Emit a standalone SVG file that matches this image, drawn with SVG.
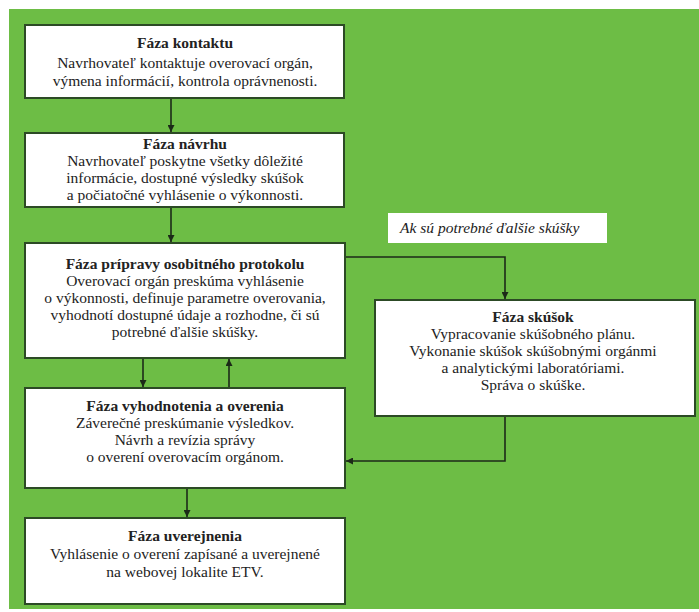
<svg xmlns="http://www.w3.org/2000/svg" width="699" height="612" viewBox="0 0 699 612">
<style>
text{font-family:'Liberation Serif','DejaVu Serif',serif}
.t{font-size:15.5px;fill:#222;text-anchor:middle}
.b{font-weight:bold}
.i{font-style:italic;text-anchor:start;font-size:15.5px}
.box{fill:#ffffff;stroke:#2c4a25;stroke-width:2}
.c{fill:none;stroke:#1c2a18;stroke-width:1.6}
</style>
<defs>
<marker id="ah" viewBox="0 0 10 10" refX="10" refY="5" markerWidth="7" markerHeight="7" markerUnits="userSpaceOnUse" orient="auto">
<path d="M0,0 L10,5 L0,10 z" fill="#1c2a18"/>
</marker>
</defs>
<rect x="0" y="0" width="699" height="612" fill="#ffffff"/>
<rect x="9" y="9" width="690" height="600" fill="#6dbd45"/>
<g id="connectors">
<line class="c" x1="171" y1="99" x2="171" y2="132" marker-end="url(#ah)"/>
<line class="c" x1="171" y1="208" x2="171" y2="242" marker-end="url(#ah)"/>
<line class="c" x1="143" y1="359" x2="143" y2="387" marker-end="url(#ah)"/>
<line class="c" x1="229" y1="387" x2="229" y2="359" marker-end="url(#ah)"/>
<polyline class="c" points="346,257 505,257 505,299" marker-end="url(#ah)"/>
<polyline class="c" points="505,417 505,461 346,461" marker-end="url(#ah)"/>
<line class="c" x1="187" y1="489" x2="187" y2="517" marker-end="url(#ah)"/>
</g>
<g id="label">
<rect x="388" y="213" width="219" height="30" fill="#ffffff"/>
<text class="t i" x="400" y="233">Ak sú potrebné ďalšie skúšky</text>
</g>
<g id="faza-kontaktu">
<rect class="box" x="25" y="25" width="319" height="73"/>
<text class="t b" x="185" y="48">Fáza kontaktu</text>
<text class="t" x="185" y="68">Navrhovateľ kontaktuje overovací orgán,</text>
<text class="t" x="185" y="86">výmena informácií, kontrola oprávnenosti.</text>
</g>
<g id="faza-navrhu">
<rect class="box" x="25" y="133" width="319" height="74"/>
<text class="t b" x="185" y="149">Fáza návrhu</text>
<text class="t" x="185" y="166">Navrhovateľ poskytne všetky dôležité</text>
<text class="t" x="185" y="183">informácie, dostupné výsledky skúšok</text>
<text class="t" x="185" y="200">a počiatočné vyhlásenie o výkonnosti.</text>
</g>
<g id="faza-pripravy">
<rect class="box" x="25" y="243" width="320" height="115"/>
<text class="t b" x="185" y="269">Fáza prípravy osobitného protokolu</text>
<text class="t" x="185" y="286">Overovací orgán preskúma vyhlásenie</text>
<text class="t" x="185" y="303">o výkonnosti, definuje parametre overovania,</text>
<text class="t" x="185" y="320">vyhodnotí dostupné údaje a rozhodne, či sú</text>
<text class="t" x="185" y="337">potrebné ďalšie skúšky.</text>
</g>
<g id="faza-vyhodnotenia">
<rect class="box" x="25" y="388" width="320" height="100"/>
<text class="t b" x="185" y="411">Fáza vyhodnotenia a overenia</text>
<text class="t" x="185" y="428">Záverečné preskúmanie výsledkov.</text>
<text class="t" x="185" y="445">Návrh a revízia správy</text>
<text class="t" x="185" y="462">o overení overovacím orgánom.</text>
</g>
<g id="faza-uverejnenia">
<rect class="box" x="25" y="518" width="320" height="86"/>
<text class="t b" x="185" y="541">Fáza uverejnenia</text>
<text class="t" x="185" y="559">Vyhlásenie o overení zapísané a uverejnené</text>
<text class="t" x="185" y="577">na webovej lokalite ETV.</text>
</g>
<g id="faza-skusok">
<rect class="box" x="375" y="300" width="320" height="116"/>
<text class="t b" x="533" y="322">Fáza skúšok</text>
<text class="t" x="533" y="339">Vypracovanie skúšobného plánu.</text>
<text class="t" x="533" y="356">Vykonanie skúšok skúšobnými orgánmi</text>
<text class="t" x="533" y="373">a analytickými laboratóriami.</text>
<text class="t" x="533" y="390">Správa o skúške.</text>
</g>
</svg>
